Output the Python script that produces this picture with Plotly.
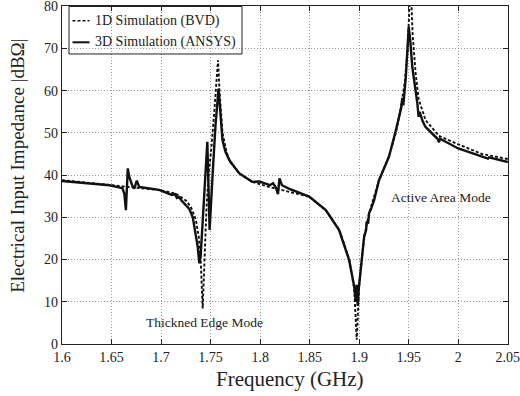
import plotly.graph_objects as go

# ---- data ----
bvd_f = [1.600, 1.625, 1.650, 1.675, 1.700, 1.715, 1.725, 1.730, 1.735, 1.738, 1.740, 1.742,
         1.744, 1.746, 1.748, 1.751, 1.754, 1.756, 1.7575, 1.759, 1.762, 1.766, 1.770, 1.779,
         1.792, 1.809, 1.820, 1.830, 1.8495, 1.866, 1.880, 1.890, 1.895, 1.8975, 1.900, 1.905,
         1.910, 1.920, 1.930, 1.937, 1.942, 1.946, 1.949, 1.951, 1.9525, 1.954, 1.957, 1.960,
         1.967, 1.9805, 2.000, 2.024, 2.050]
bvd_db = [38.8, 38.2, 37.7, 37.1, 36.4, 35.6, 34.0, 32.5, 29.5, 25.5, 20.0, 8.4,
          22.0, 33.0, 40.0, 47.0, 56.0, 63.0, 67.2, 60.0, 50.0, 45.5, 43.0, 40.4,
          38.4, 37.2, 36.5, 36.0, 34.9, 31.7, 27.0, 20.0, 13.0, 1.0, 14.0, 25.4,
          31.0, 38.8, 44.5, 50.0, 56.0, 62.0, 70.0, 82.0, 82.0, 73.0, 64.0, 58.0,
          53.0, 49.3, 47.3, 45.0, 43.8]

ansys_f = [1.600, 1.625, 1.648, 1.661, 1.663, 1.6645, 1.6664, 1.668, 1.671, 1.673, 1.6755, 1.678,
           1.690, 1.698, 1.711, 1.714, 1.716, 1.718, 1.721, 1.7285, 1.732, 1.735, 1.737, 1.7386,
           1.7400, 1.7467, 1.749, 1.752, 1.755, 1.758, 1.760, 1.762, 1.765, 1.769, 1.779, 1.792,
           1.799, 1.805, 1.810, 1.813, 1.816, 1.818, 1.8195, 1.822, 1.829, 1.8495, 1.8663, 1.8797,
           1.8898, 1.895, 1.8965, 1.8975, 1.8985, 1.8995, 1.901, 1.905, 1.907, 1.9075, 1.909, 1.910,
           1.912, 1.915, 1.920, 1.925, 1.930, 1.937, 1.9425, 1.9435, 1.9445, 1.947, 1.950, 1.9515,
           1.9536, 1.9587, 1.9600, 1.9610, 1.9640, 1.967, 1.975, 1.979, 1.9805, 1.9815, 2.000, 2.024,
           2.030, 2.031, 2.050]
ansys_db = [38.6, 38.0, 37.6, 36.9, 35.5, 31.7, 41.6, 39.5, 37.5, 36.8, 38.7, 37.2,
            36.8, 36.5, 35.3, 35.5, 34.6, 34.8, 33.9, 32.0, 30.0, 26.2, 23.0, 19.1,
            21.0, 47.9, 27.0, 40.0, 52.0, 60.5, 55.0, 48.3, 45.5, 43.5, 40.4, 38.4,
            38.5, 38.0, 37.6, 38.1, 37.0, 35.5, 39.2, 37.6, 36.8, 34.9, 31.7, 27.0,
            19.9, 13.6, 10.0, 14.0, 9.0, 13.0, 16.0, 25.4, 27.0, 29.0, 28.5, 31.0,
            32.0, 34.0, 38.8, 41.5, 44.3, 50.6, 56.0, 58.3, 56.5, 63.0, 75.1, 72.0,
            65.6, 57.0, 53.8, 55.0, 52.8, 51.4, 49.6, 48.6, 47.8, 48.6, 46.3, 44.3,
            43.9, 44.2, 43.1]

x_ticks = [1.6, 1.65, 1.7, 1.75, 1.8, 1.85, 1.9, 1.95, 2.0, 2.05]
x_tick_text = ["1.6", "1.65", "1.7", "1.75", "1.8", "1.85", "1.9", "1.95", "2", "2.05"]
y_ticks = [0, 10, 20, 30, 40, 50, 60, 70, 80]

legend_names = ["1D Simulation (BVD)", "3D Simulation (ANSYS)"]

FONT = "Liberation Serif"
TXT = "#222222"

fig = go.Figure()
fig.add_trace(go.Scatter(x=ansys_f, y=ansys_db, mode="lines", name=legend_names[1],
                         line=dict(color="#111111", width=2.4), showlegend=False))
fig.add_trace(go.Scatter(x=bvd_f, y=bvd_db, mode="lines", name=legend_names[0],
                         line=dict(color="#111111", width=1.9, dash="3px,2px"), showlegend=False))

axis_common = dict(showline=True, linecolor="#222222", linewidth=1.2, mirror="ticks",
                   ticks="inside", ticklen=5, tickcolor="#222222",
                   showgrid=True, gridcolor="#9a9a9a", griddash="1px,2px", gridwidth=1,
                   zeroline=False, ticklabeloverflow="allow", automargin=False,
                   tickfont=dict(family=FONT, size=14, color=TXT))

fig.update_xaxes(range=[1.6, 2.0502], tickvals=x_ticks, ticktext=x_tick_text, **axis_common)
fig.update_yaxes(range=[0, 80.05], tickvals=y_ticks, **axis_common)

# manual legend (transparent box, short line samples)
fig.add_shape(type="rect", xref="paper", yref="paper", x0=0.0157, x1=0.4036, y0=0.858, y1=0.9985,
              line=dict(color="#222222", width=1), fillcolor="rgba(0,0,0,0)")
fig.add_shape(type="line", xref="paper", yref="paper", x0=0.0235, x1=0.0617, y0=0.9565, y1=0.9565,
              line=dict(color="#111111", width=1.5, dash="3px,2px"))
fig.add_shape(type="line", xref="paper", yref="paper", x0=0.0235, x1=0.0617, y0=0.8926, y1=0.8926,
              line=dict(color="#111111", width=2))
for yy, name in zip([0.9565, 0.8926], legend_names):
    fig.add_annotation(xref="paper", yref="paper", x=0.0695, y=yy, text=name, showarrow=False,
                       xanchor="left", yanchor="middle", font=dict(family=FONT, size=14, color=TXT))

# mode labels
fig.add_annotation(x=1.7436, y=5.0, text="Thickned Edge Mode", showarrow=False,
                   font=dict(family=FONT, size=13.5, color=TXT))
fig.add_annotation(x=1.983, y=34.8, text="Active Area Mode", showarrow=False,
                   font=dict(family=FONT, size=13.5, color=TXT))

# axis titles
fig.add_annotation(xref="paper", yref="paper", x=0.511, y=-0.1036, text="Frequency (GHz)",
                   showarrow=False, xanchor="center", yanchor="middle",
                   font=dict(family=FONT, size=21, color=TXT))
fig.add_annotation(xref="paper", yref="paper", x=-0.0987, y=0.527,
                   text="Electrical Input Impedance |dBΩ|", textangle=-90,
                   showarrow=False, xanchor="center", yanchor="middle",
                   font=dict(family=FONT, size=19, color=TXT))

fig.update_layout(width=520, height=396, margin=dict(l=62, r=12, t=6, b=52, autoexpand=False),
                  font=dict(family=FONT, color=TXT),
                  paper_bgcolor="white", plot_bgcolor="white", showlegend=False)

fig.write_html("out.html")
